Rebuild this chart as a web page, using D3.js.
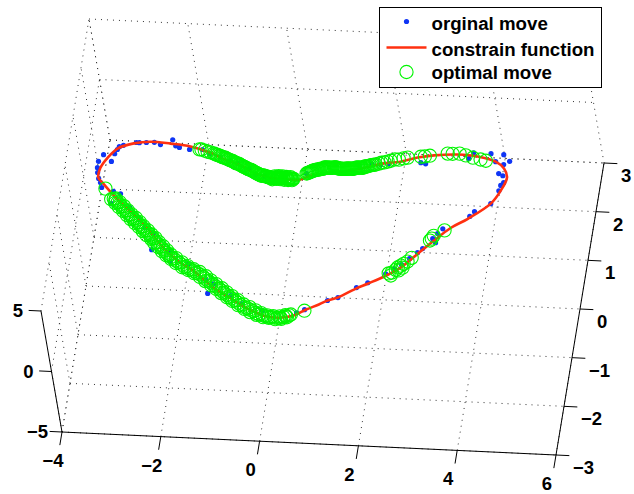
<!DOCTYPE html>
<html>
<head>
<meta charset="utf-8">
<script src="https://cdn.jsdelivr.net/npm/d3@7"></script>
<style>
  body { margin: 0; background: #fff; }
  text { font-family: "Liberation Sans", Arial, sans-serif; font-weight: bold; fill: #000; }
</style>
</head>
<body>
<div id="chart"></div>
<script>
const xTicks = [-4, -2, 0, 2, 4, 6];
const yTicks = [-3, -2, -1, 0, 1, 2, 3];
const zTicks = [-5, 0, 5];
const legendLabels = ["orginal move", "constrain function", "optimal move"];

// the curve sits on one height
const curveZ = 0;

// constrain function
const curveX = [-3.70,-3.69,-3.58,-3.41,-3.10,-2.77,-2.36,-1.95,-1.53,-1.25,-0.88,-0.60,-0.24,0.13,0.37,0.56,1.01,1.54,1.99,2.32,2.65,2.97,3.45,3.85,4.23,4.42,4.51,4.43,4.27,3.86,3.55,3.25,2.97,2.67,2.40,2.06,1.84,1.51,1.31,1.15,0.90,0.68,0.37,0.08,-0.27,-0.64,-1.02,-1.48,-1.77,-2.16,-2.54,-2.71,-3.01,-3.33,-3.60];
const curveY = [1.00,1.20,1.41,1.61,1.73,1.78,1.76,1.72,1.61,1.50,1.38,1.25,1.16,1.14,1.15,1.24,1.32,1.43,1.56,1.61,1.71,1.77,1.81,1.79,1.70,1.57,1.39,1.12,0.84,0.51,0.31,0.03,-0.25,-0.55,-0.73,-0.91,-1.02,-1.22,-1.29,-1.38,-1.50,-1.63,-1.69,-1.66,-1.53,-1.34,-1.14,-0.81,-0.66,-0.37,0.01,0.16,0.39,0.65,0.90];

// orginal move
const moveX = [-2.33,-3.05,-2.99,-2.85,-2.69,-2.56,-2.25,-2.17,-1.96,-1.70,-3.30,-3.38,-3.41,-3.45,-3.67,-3.49,-3.75,-3.75,-3.73,-3.69,-3.64,-3.60,-3.35,-3.20,-3.35,-2.97,-2.73,-2.59,-2.41,-2.39,-2.01,-1.97,-1.60,-1.21,-1.03,-1.12,-0.65,-0.39,0.04,0.73,0.88,1.31,1.51,1.85,2.06,2.39,2.55,2.68,2.82,2.96,3.05,3.22,3.29,3.30,3.39,3.89,3.97,4.27,4.39,4.41,4.46,4.42,4.33,4.40,4.51,4.23,4.37,4.11,3.76,3.68,2.83,2.73,2.09,1.93,1.75,1.51,0.47,-0.36,-0.55,-0.69,-0.95,-1.10,-1.31,-1.54];
const moveY = [1.84,1.75,1.75,1.76,1.77,1.73,1.72,1.69,1.66,1.67,1.68,1.65,1.59,1.50,1.47,1.34,1.33,1.20,1.10,0.98,0.90,0.80,0.73,0.69,0.48,0.42,0.18,0.02,-0.09,-0.42,-0.42,-0.65,-0.67,-0.98,-1.06,-1.26,-1.28,-1.44,-1.56,-1.57,-1.50,-1.29,-1.22,-1.00,-0.89,-0.69,-0.58,-0.49,-0.36,-0.23,-0.14,0.07,-0.01,0.18,0.28,0.56,0.66,0.84,1.11,1.22,1.28,1.42,1.46,1.65,1.72,1.70,1.85,1.86,1.86,1.74,1.59,1.61,1.56,1.53,1.54,1.49,1.28,1.18,1.21,1.33,1.42,1.47,1.54,1.59];

// optimal move
const optimalX = [-3.52,-3.37,-3.28,-3.28,-3.19,-3.19,-3.09,-3.09,-3.00,-3.00,-2.91,-2.91,-2.81,-2.82,-2.72,-2.72,-2.63,-2.63,-2.53,-2.54,-2.44,-2.44,-2.35,-2.36,-2.27,-2.27,-2.17,-2.18,-2.08,-2.08,-1.99,-1.97,-1.87,-1.86,-1.74,-1.72,-1.61,-1.59,-1.48,-1.46,-1.35,-1.33,-1.21,-1.21,-1.10,-1.08,-0.98,-0.96,-0.85,-0.85,-0.74,-0.72,-0.62,-0.60,-0.49,-0.47,-0.36,-0.33,-0.23,-0.21,-0.10,-0.07,0.02,0.07,0.15,0.19,0.27,0.32,0.40,0.44,0.51,0.55,0.62,0.88,
  -1.76,-1.72,-1.65,-1.59,-1.53,-1.46,-1.40,-1.34,-1.29,-1.23,-1.19,-1.14,-1.08,-1.03,-0.99,-0.95,-0.90,-0.86,-0.82,-0.77,-0.73,-0.69,-0.64,-0.60,-0.56,-0.51,-0.47,-0.43,-0.39,-0.34,-0.30,-0.26,-0.22,-0.18,-0.14,-0.10,-0.06,-0.02,0.02,0.07,0.11,0.15,0.19,0.23,
  0.47,0.51,0.55,0.58,0.62,0.66,0.70,0.74,0.78,0.81,0.85,0.89,0.93,0.97,1.02,1.06,1.10,1.14,1.18,1.22,1.26,1.30,1.34,1.38,1.42,1.46,1.50,1.54,1.58,1.62,1.66,1.71,1.77,1.83,1.89,1.94,2.00,2.06,2.12,2.20,2.28,2.37,2.45,2.71,2.79,2.89,3.24,3.34,3.48,3.61,3.76,3.92,4.03,
  2.45,2.50,2.51,2.58,2.64,2.61,2.67,2.71,2.72,2.79,2.86,3.17,3.20,3.23,3.43,
  -3.32,-3.28,-3.23,-3.18,-3.14,-3.09,-3.04,-3.00,-2.95,-2.90,-2.86,-2.81,-2.76,-2.72,-2.67,-2.62,-2.58,-2.53,-2.48,-2.44,-2.39,
  -2.32,-2.27,-2.22,-2.18,-2.13,-2.08,-2.04,-1.98,-1.92,-1.87,-1.80,-1.73,-1.67,-1.60,-1.54,-1.47,-1.41,-1.34,-1.27,-1.22,-1.16,-1.09,-1.03,-0.98,-0.91,-0.85,-0.80,-0.73,-0.67,-0.62,-0.55,-0.48,-0.42,-0.35,-0.28,-0.22,-0.15,-0.09,-0.02,0.05,0.11,0.17,0.23,0.30,0.36,0.42,0.48,0.53,0.59,
  -1.43,-1.37,-1.31,-1.26,-1.21,-1.16,-1.11,-1.05,-1.01,-0.97,-0.92,-0.88,-0.84,-0.79,-0.75,-0.71,-0.66,-0.62,-0.58,-0.53,-0.49,-0.45,-0.41,-0.36,-0.32,-0.28,-0.24,-0.20,-0.16,-0.12,-0.08,-0.04,0.00,0.05,0.09,0.13,0.17,0.21,
  -0.20,-0.12,-0.04,0.04,0.12,0.20,-0.16,-0.08,0.00,0.08,0.16,
  0.49,0.53,0.57,0.60,0.64,0.68,0.72,0.76,0.80,0.83,0.87,0.91,0.95,1.00,1.04,1.08,1.12,1.16,1.20,1.24,1.28,1.32,1.36,1.40,1.44,1.48,1.52,1.56,1.60,1.64,1.68,1.74,1.80];
const optimalY = [0.78,0.57,0.59,0.50,0.52,0.42,0.44,0.34,0.36,0.26,0.28,0.18,0.21,0.11,0.13,0.03,0.05,-0.05,-0.03,-0.13,-0.11,-0.20,-0.18,-0.28,-0.26,-0.36,-0.34,-0.44,-0.42,-0.52,-0.50,-0.59,-0.57,-0.67,-0.65,-0.75,-0.72,-0.80,-0.78,-0.86,-0.83,-0.93,-0.91,-1.01,-0.99,-1.09,-1.06,-1.16,-1.14,-1.24,-1.22,-1.32,-1.29,-1.39,-1.37,-1.47,-1.45,-1.54,-1.50,-1.60,-1.56,-1.65,-1.61,-1.69,-1.65,-1.70,-1.66,-1.72,-1.66,-1.71,-1.63,-1.67,-1.61,-1.52,
  1.67,1.67,1.65,1.63,1.62,1.60,1.58,1.56,1.54,1.53,1.51,1.49,1.47,1.45,1.43,1.42,1.40,1.38,1.36,1.34,1.32,1.31,1.29,1.27,1.25,1.23,1.21,1.19,1.20,1.18,1.18,1.16,1.16,1.16,1.17,1.17,1.17,1.17,1.17,1.16,1.16,1.16,1.16,1.16,
  1.28,1.30,1.32,1.34,1.35,1.37,1.37,1.39,1.39,1.42,1.42,1.42,1.42,1.42,1.43,1.43,1.41,1.41,1.41,1.41,1.42,1.42,1.42,1.42,1.43,1.45,1.45,1.45,1.45,1.48,1.48,1.50,1.52,1.53,1.55,1.57,1.58,1.60,1.62,1.65,1.65,1.68,1.70,1.73,1.74,1.76,1.82,1.82,1.83,1.80,1.76,1.73,1.71,
  -0.68,-0.72,-0.66,-0.60,-0.61,-0.55,-0.51,-0.55,-0.47,-0.42,-0.34,0.03,0.07,0.13,0.25,
  0.58,0.55,0.51,0.47,0.43,0.39,0.35,0.31,0.27,0.23,0.19,0.16,0.12,0.08,0.04,0.00,-0.04,-0.08,-0.12,-0.16,-0.19,
  -0.27,-0.31,-0.35,-0.39,-0.43,-0.47,-0.51,-0.55,-0.58,-0.62,-0.66,-0.70,-0.74,-0.76,-0.79,-0.82,-0.85,-0.88,-0.92,-0.96,-1.00,-1.04,-1.08,-1.11,-1.15,-1.19,-1.23,-1.27,-1.31,-1.34,-1.38,-1.42,-1.46,-1.50,-1.52,-1.55,-1.58,-1.61,-1.64,-1.65,-1.67,-1.68,-1.68,-1.69,-1.69,-1.69,-1.67,-1.65,-1.63,
  1.59,1.57,1.55,1.53,1.52,1.50,1.48,1.46,1.44,1.42,1.41,1.39,1.37,1.35,1.33,1.31,1.30,1.28,1.26,1.24,1.22,1.20,1.20,1.19,1.18,1.17,1.16,1.16,1.16,1.17,1.17,1.17,1.17,1.16,1.16,1.16,1.16,1.16,
  1.13,1.14,1.14,1.13,1.13,1.13,1.19,1.20,1.20,1.19,1.19,
  1.29,1.31,1.33,1.35,1.36,1.37,1.38,1.39,1.40,1.42,1.42,1.42,1.42,1.43,1.43,1.42,1.41,1.41,1.41,1.41,1.42,1.42,1.42,1.42,1.44,1.45,1.45,1.45,1.46,1.48,1.49,1.51,1.52];

const width = 634;
const height = 494;

// the box corner x=-4, y=-3, z=-5 sits here on the page
const originX = 62;
const originY = 432;

// fixed oblique view: each data axis gets one scale per page direction
const xToLeft = d3.scaleLinear().domain([-4, 6]).range([0, 494]);
const xToTop = d3.scaleLinear().domain([-4, 6]).range([0, 23]);
const yToLeft = d3.scaleLinear().domain([-3, 3]).range([0, 48]);
const yToTop = d3.scaleLinear().domain([-3, 3]).range([0, -292]);
const zToLeft = d3.scaleLinear().domain([-5, 5]).range([0, -21]);
const zToTop = d3.scaleLinear().domain([-5, 5]).range([0, -121]);

const project = (x, y, z) => [
  originX + xToLeft(x) + yToLeft(y) + zToLeft(z),
  originY + xToTop(x) + yToTop(y) + zToTop(z),
];

const xMin = xTicks[0], xMax = xTicks[xTicks.length - 1];
const yMin = yTicks[0], yMax = yTicks[yTicks.length - 1];
const zMin = zTicks[0], zMax = zTicks[zTicks.length - 1];

const svg = d3
  .select("#chart")
  .append("svg")
  .attr("width", width)
  .attr("height", height)
  .style("display", "block");

const segment = d3.line();

// dotted grid: floor, back wall, left wall
const gridLines = [];
xTicks.forEach((x) => {
  gridLines.push([project(x, yMin, zMin), project(x, yMax, zMin)]);
  gridLines.push([project(x, yMax, zMin), project(x, yMax, zMax)]);
});
yTicks.forEach((y) => {
  gridLines.push([project(xMin, y, zMin), project(xMax, y, zMin)]);
  gridLines.push([project(xMin, y, zMin), project(xMin, y, zMax)]);
});
zTicks.forEach((z) => {
  gridLines.push([project(xMin, yMax, z), project(xMax, yMax, z)]);
  gridLines.push([project(xMin, yMin, z), project(xMin, yMax, z)]);
});

svg
  .append("g")
  .selectAll("path")
  .data(gridLines)
  .join("path")
  .attr("d", segment)
  .attr("fill", "none")
  .attr("stroke", "#333")
  .attr("stroke-width", 1)
  .attr("stroke-dasharray", "1 5");

// axis lines
const axisLines = [
  [project(xMin, yMin, zMin), project(xMax, yMin, zMin)],
  [project(xMax, yMin, zMin), project(xMax, yMax, zMin)],
  [project(xMin, yMin, zMin), project(xMin, yMin, zMax)],
];

// tick marks run along the neighbouring axis
const xTickLines = xTicks.map((x) => [project(x, yMin, zMin), project(x, yMin - 0.27, zMin)]);
const yTickLines = yTicks.map((y) => [project(xMax, y, zMin), project(xMax + 0.27, y, zMin)]);
const zTickLines = zTicks.map((z) => [project(xMin, yMin, z), project(xMin - 0.25, yMin, z)]);

svg
  .append("g")
  .selectAll("path")
  .data([...axisLines, ...xTickLines, ...yTickLines, ...zTickLines])
  .join("path")
  .attr("d", segment)
  .attr("fill", "none")
  .attr("stroke", "#000")
  .attr("stroke-width", 1);

const tickText = (v) => String(v).replace("-", "\u2212");

// tick labels
svg
  .append("g")
  .selectAll("text")
  .data(xTicks)
  .join("text")
  .attr("x", (d) => project(d, yMin, zMin)[0] - 9)
  .attr("y", (d) => project(d, yMin, zMin)[1] + 35)
  .attr("text-anchor", "middle")
  .style("font-size", "18.5px")
  .text(tickText);

svg
  .append("g")
  .selectAll("text")
  .data(yTicks)
  .join("text")
  .attr("x", (d) => project(xMax, d, zMin)[0] + 17)
  .attr("y", (d) => project(xMax, d, zMin)[1] + 19)
  .style("font-size", "18.5px")
  .text(tickText);

svg
  .append("g")
  .selectAll("text")
  .data(zTicks)
  .join("text")
  .attr("x", (d) => project(xMin, yMin, d)[0] - (d < 0 ? 14 : 18))
  .attr("y", (d) => project(xMin, yMin, d)[1] + 6)
  .attr("text-anchor", "end")
  .style("font-size", "18.5px")
  .text(tickText);

// blue dots first, then the line, rings end up on top
svg
  .append("g")
  .selectAll("circle")
  .data(moveX.map((x, i) => project(x, moveY[i], curveZ)))
  .join("circle")
  .attr("cx", (d) => d[0])
  .attr("cy", (d) => d[1])
  .attr("r", 2.6)
  .attr("fill", "#0f35f5");

const curveLine = d3.line().curve(d3.curveCatmullRomClosed);

svg
  .append("path")
  .attr("d", curveLine(curveX.map((x, i) => project(x, curveY[i], curveZ))))
  .attr("fill", "none")
  .attr("stroke", "#ff3010")
  .attr("stroke-width", 2.6);

svg
  .append("g")
  .selectAll("circle")
  .data(optimalX.map((x, i) => project(x, optimalY[i], curveZ)))
  .join("circle")
  .attr("cx", (d) => d[0])
  .attr("cy", (d) => d[1])
  .attr("r", 6.6)
  .attr("fill", "none")
  .attr("stroke", "#00f500")
  .attr("stroke-width", 1.1);

// legend
const legend = svg.append("g").attr("transform", "translate(379.5, 7.5)");

legend
  .append("rect")
  .attr("width", 222)
  .attr("height", 80)
  .attr("fill", "#fff")
  .attr("stroke", "#000")
  .attr("stroke-width", 1);

legend
  .selectAll("text")
  .data(legendLabels)
  .join("text")
  .attr("x", 52)
  .attr("y", (d, i) => [22.5, 48.5, 71.5][i])
  .style("font-size", "18.7px")
  .text((d) => d);

legend
  .append("circle")
  .attr("cx", 27)
  .attr("cy", 14)
  .attr("r", 2.6)
  .attr("fill", "#0f35f5");

legend
  .append("line")
  .attr("x1", 7)
  .attr("x2", 47)
  .attr("y1", 40)
  .attr("y2", 40)
  .attr("stroke", "#ff3010")
  .attr("stroke-width", 2.6);

legend
  .append("circle")
  .attr("cx", 27)
  .attr("cy", 64.5)
  .attr("r", 6.6)
  .attr("fill", "none")
  .attr("stroke", "#00f500")
  .attr("stroke-width", 1.1);
</script>
</body>
</html>
